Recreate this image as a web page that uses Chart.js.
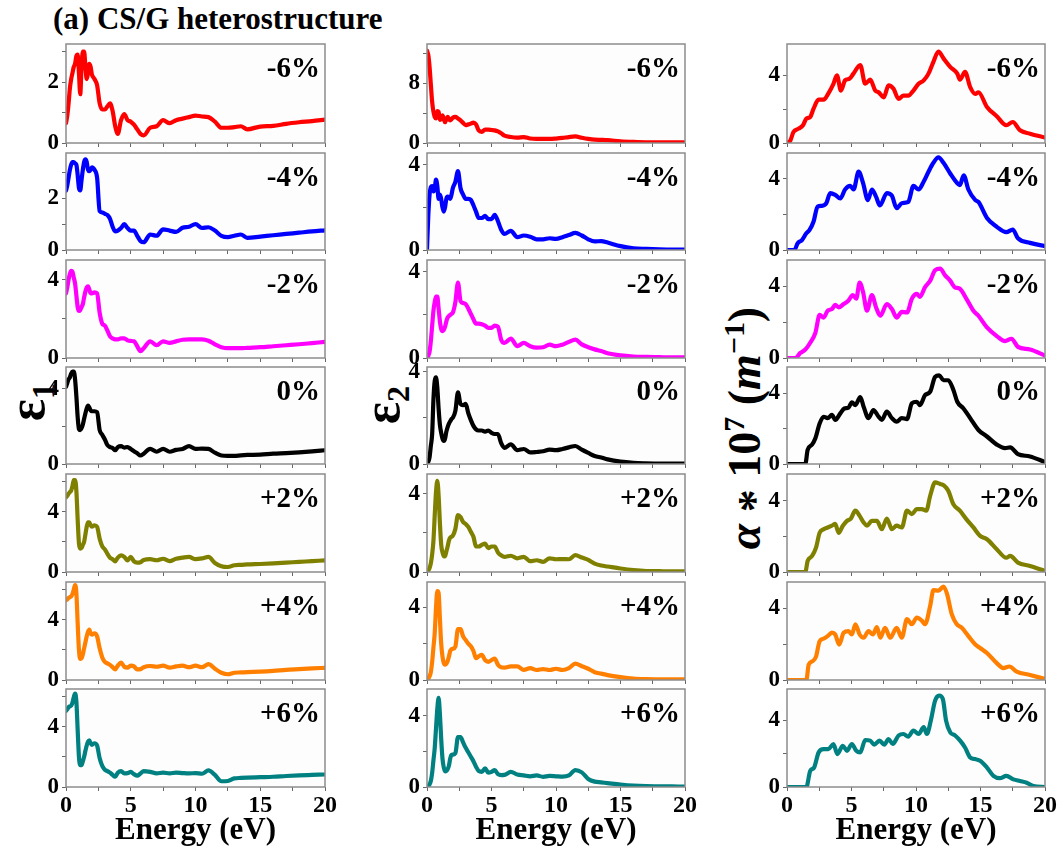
<!DOCTYPE html>
<html><head><meta charset="utf-8">
<script src="https://cdn.jsdelivr.net/npm/chart.js@4.4.0/dist/chart.umd.min.js"></script>
<style>
html,body{margin:0;padding:0;background:#fff;}
body{position:relative;width:1062px;height:854px;overflow:hidden;font-family:"Liberation Serif","Times New Roman",serif;}
canvas{position:absolute;}
.txt{position:absolute;font-weight:bold;white-space:nowrap;color:#000;}
.plab{font-size:29px;line-height:29px;transform:translateX(-100%);}
.elab{font-size:31px;line-height:31px;transform:translateX(-50%);}
.ylab{transform:translate(-50%,-50%) rotate(-90deg);line-height:1;}
</style></head><body>
<div class="txt" style="left:53px;top:3px;font-size:31px;line-height:31px;">(a) CS/G heterostructure</div>
<div class="txt ylab" style="left:27px;top:402px;font-size:52px;">ε<span style="font-size:0.62em;position:relative;top:0.3em;">1</span></div>
<div class="txt ylab" style="left:382px;top:405px;font-size:52px;">ε<span style="font-size:0.62em;position:relative;top:0.3em;">2</span></div>
<div class="txt ylab" style="left:745px;top:428px;font-size:46px;"><i>α</i> <span style="font-size:1em;position:relative;top:0.22em;">*</span> 10<span style="font-size:0.65em;position:relative;top:-0.55em;">7</span> (<i>m</i><span style="font-size:0.65em;position:relative;top:-0.55em;">−1</span>)</div>
<script>
// ---------------- DATA ----------------
const strainLabels = ['-6%','-4%','-2%','0%','+2%','+4%','+6%'];
const energyEps = [0,0.1,0.2,0.3,0.4,0.5,0.6,0.7,0.8,0.9,1.0,1.1,1.2,1.3,1.4,1.5,1.6,1.7,1.8,1.9,2.0,
  2.2,2.4,2.6,2.8,3.0,3.2,3.4,3.6,3.8,4.0,
  4.25,4.5,4.75,5.0,5.25,5.5,5.75,6.0,
  6.5,7.0,7.5,8.0,8.5,9.0,9.5,10.0,10.5,11.0,11.5,12.0,12.5,13.0,13.5,14.0,
  15,16,17,18,19,20];
const xTickValues = [0,2.5,5,7.5,10,12.5,15,17.5,20];
const xTickLabels = [0,5,10,15,20];

// epsilon_1 (real part)
const eps1M6 = [0.65,0.9,1.3,1.8,2.1,2.3,2.5,2.6,2.85,2.9,2.3,1.6,2.5,3.0,3.0,2.5,2.1,2.3,2.6,2.5,2.25, 2.1,1.9,1.3,1.1,1.1,1.2,1.3,1.05,0.55,0.3, 0.75,0.95,0.75,0.7,0.6,0.45,0.3,0.25, 0.5,0.55,0.75,0.65,0.75,0.8,0.85,0.9,0.87,0.85,0.7,0.5,0.5,0.52,0.55,0.45, 0.54,0.56,0.63,0.68,0.72,0.77];
const eps1M4 = [2.3,2.5,2.8,3.1,3.3,3.4,3.4,3.35,3.3,2.9,2.4,2.3,2.7,3.1,3.4,3.5,3.4,3.1,3.05,3.1,3.2, 3.1,2.8,1.5,1.45,1.4,1.35,1.2,0.9,0.72,0.75, 0.85,1.0,0.85,0.75,0.75,0.55,0.35,0.3, 0.6,0.55,0.8,0.75,0.7,0.86,0.9,1.0,0.85,0.88,0.75,0.55,0.5,0.55,0.6,0.47, 0.52,0.57,0.62,0.67,0.72,0.76];
const eps1M2 = [3.3,3.6,4.0,4.3,4.45,4.4,4.1,3.8,3.2,2.6,2.4,2.45,2.6,2.75,3.1,3.4,3.6,3.65,3.5,3.3,3.3, 3.35,3.3,2.3,1.75,1.65,1.4,1.1,1.0,0.95,0.95, 1.0,1.0,0.9,0.87,0.85,0.6,0.35,0.5, 0.85,0.65,0.85,0.77,0.85,0.93,0.95,0.95,0.95,0.88,0.7,0.55,0.5,0.5,0.5,0.52, 0.55,0.6,0.65,0.7,0.76,0.82];
const eps1Z0 = [4.1,4.3,4.5,4.6,4.8,4.9,4.9,4.5,3.6,2.5,1.85,1.8,1.9,2.1,2.4,2.7,2.95,3.1,3.0,2.85,2.8, 2.8,2.75,1.8,1.55,1.3,1.0,0.9,0.85,0.73,0.9, 0.95,0.87,0.9,0.8,0.68,0.57,0.45,0.55, 0.8,0.65,0.8,0.65,0.75,0.8,0.95,0.8,0.82,0.8,0.6,0.45,0.43,0.43,0.46,0.48, 0.5,0.55,0.58,0.62,0.67,0.73];
const eps1P2 = [4.95,5.05,5.2,5.3,5.4,5.7,6.1,6.1,5.4,3.5,1.9,1.55,1.6,1.8,2.0,2.5,3.0,3.3,3.3,3.1,3.0, 3.1,3.0,2.2,1.7,1.5,1.2,0.95,0.85,0.7,0.95, 1.1,1.0,0.77,1.0,0.7,0.62,0.65,0.8, 0.85,0.78,0.88,0.72,0.88,0.95,1.0,0.85,0.9,1.0,0.6,0.38,0.33,0.45,0.47,0.5, 0.53,0.57,0.62,0.67,0.72,0.77];
const eps1P4 = [5.3,5.35,5.45,5.5,5.55,5.7,6.0,6.3,5.8,3.8,2.0,1.4,1.45,1.7,2.1,2.5,2.9,3.2,3.35,3.1,3.0, 3.1,2.9,2.1,1.5,1.2,1.1,1.0,0.85,0.7,0.95, 1.15,0.88,0.82,0.95,0.9,0.7,0.72,0.85, 0.93,0.88,0.95,0.82,0.9,0.95,0.85,0.95,0.85,1.05,0.75,0.48,0.38,0.48,0.5,0.52, 0.55,0.6,0.67,0.72,0.77,0.81];
const eps1P6 = [5.05,5.15,5.3,5.35,5.4,5.6,5.95,6.2,5.7,3.8,2.0,1.45,1.45,1.7,2.0,2.4,2.75,3.0,3.1,2.9,2.8, 2.9,2.75,1.9,1.4,1.15,1.05,0.95,0.8,0.68,0.95, 1.05,0.9,0.92,1.0,0.85,0.75,0.9,1.05, 1.0,0.9,0.95,0.9,0.95,0.92,0.9,0.92,0.88,1.1,0.8,0.38,0.4,0.57,0.6,0.62, 0.65,0.68,0.73,0.77,0.8,0.83];

// epsilon_2 (imaginary part)
const eps2M6 = [12.4,11.8,10.2,7.8,5.5,4.2,3.5,3.3,4.3,4.2,3.1,3.3,3.7,3.2,2.8,3.2,3.5,3.2,3.05,3.2,3.4, 3.5,3.3,3.05,2.7,2.4,2.5,2.6,2.75,2.5,1.7, 1.5,1.8,1.8,1.75,1.7,1.55,1.3,1.0, 0.8,0.72,0.8,0.6,0.55,0.55,0.55,0.6,0.68,0.8,0.88,0.7,0.55,0.45,0.42,0.38, 0.22,0.14,0.1,0.1,0.1,0.1];
const eps2M4 = [0.05,1.6,2.6,2.95,3.0,2.75,2.9,3.3,3.0,2.4,2.6,2.4,2.0,1.8,2.0,2.4,2.5,2.45,2.4,2.6,2.9, 3.2,3.7,2.9,2.6,2.4,2.4,2.35,2.1,1.8,1.5, 1.5,1.6,1.45,1.45,1.65,1.35,0.95,0.75, 0.9,0.6,0.68,0.62,0.5,0.5,0.55,0.52,0.6,0.7,0.8,0.68,0.5,0.4,0.42,0.35, 0.18,0.08,0.05,0.03,0.02,0.02];
const eps2M2 = [0.02,0.1,0.3,0.8,1.5,2.2,2.6,2.85,2.85,2.3,1.7,1.35,1.25,1.3,1.45,1.7,1.88,1.95,2.0,2.05,2.1, 2.6,3.5,2.65,2.55,2.5,2.3,2.05,1.8,1.6,1.6, 1.57,1.5,1.4,1.4,1.5,1.45,0.85,0.7, 0.9,0.55,0.7,0.55,0.48,0.5,0.62,0.55,0.62,0.75,0.85,0.63,0.5,0.4,0.32,0.22, 0.12,0.07,0.05,0.04,0.03,0.03];
const eps2Z0 = [0.02,0.1,0.3,0.8,1.3,2.8,3.6,3.75,3.3,2.4,1.7,1.35,1.1,1.0,1.1,1.4,1.6,1.75,1.85,1.95,2.0, 2.3,3.1,2.6,2.55,2.6,2.2,1.9,1.65,1.5,1.45, 1.45,1.4,1.45,1.35,1.3,1.3,0.9,0.7, 0.85,0.6,0.65,0.5,0.52,0.55,0.62,0.6,0.65,0.72,0.78,0.62,0.48,0.35,0.28,0.2, 0.1,0.05,0.03,0.02,0.02,0.02];
const eps2P2 = [0.02,0.08,0.2,0.45,0.9,1.6,2.9,4.1,4.65,3.9,2.5,1.4,1.0,0.8,0.8,1.05,1.3,1.6,1.75,1.8,1.85, 2.2,2.9,2.8,2.55,2.45,2.3,2.05,1.8,1.3,1.3, 1.38,1.45,1.22,1.3,1.3,1.0,0.85,0.77, 0.83,0.7,0.77,0.55,0.6,0.52,0.7,0.65,0.66,0.65,0.86,0.74,0.62,0.43,0.33,0.28, 0.18,0.1,0.05,0.04,0.03,0.03];
const eps2P4 = [0.03,0.08,0.2,0.45,1.0,1.8,2.6,4.0,4.9,4.8,3.4,2.0,1.3,0.95,0.85,0.9,1.05,1.3,1.6,1.7,1.72, 1.85,2.8,2.8,2.4,2.2,2.0,1.86,1.6,1.2,1.3, 1.38,1.1,1.0,1.1,1.18,0.84,0.7,0.68, 0.75,0.75,0.56,0.65,0.55,0.6,0.55,0.62,0.55,0.65,0.9,0.76,0.62,0.43,0.35,0.27, 0.16,0.08,0.05,0.04,0.03,0.03];
const eps2P6 = [0.03,0.06,0.15,0.35,0.8,1.5,2.2,3.3,4.4,5.0,4.1,2.7,1.6,1.1,0.88,0.9,1.0,1.2,1.6,1.8,1.82, 1.9,2.8,2.8,2.5,2.2,1.95,1.7,1.45,1.14,0.9, 0.85,1.05,0.8,0.85,0.95,0.72,0.67,0.68, 0.85,0.7,0.65,0.6,0.65,0.57,0.62,0.6,0.58,0.65,0.95,0.82,0.45,0.3,0.26,0.22, 0.14,0.08,0.05,0.04,0.03,0.02];

// absorption alpha*1e7 (m^-1): [energy eV, value]
const alphaM6 = [[0,0],[0.26,0.15],[0.5,0.65],[0.9,0.85],[1.24,1.05],[1.5,1.44],[1.8,1.54],[2.06,2.03],[2.45,2.56],[2.84,2.56],[3.2,2.92],[3.6,3.5],[3.87,4.0],[4.18,3.1],[4.5,3.7],[4.85,3.8],[5.15,4.1],[5.68,4.6],[6.06,3.5],[6.45,3.74],[6.84,3.1],[7.1,3.0],[7.5,2.7],[7.87,3.4],[8.26,3.2],[8.65,2.6],[9.03,2.8],[9.4,2.8],[9.8,3.1],[10.2,3.5],[10.6,3.7],[10.97,4.1],[11.35,4.8],[11.74,5.4],[12.13,5.0],[12.65,4.5],[13.2,4.1],[13.4,3.74],[13.8,4.2],[14.2,3.3],[14.6,2.9],[14.84,3.0],[15.5,2.13],[16.26,1.58],[17.0,1.05],[17.5,1.24],[18.06,0.75],[18.84,0.55],[20,0.32]];
const alphaM4 = [[0,0],[0.57,0],[0.83,0.38],[1.16,0.56],[1.5,0.94],[1.75,1.13],[2.06,1.6],[2.37,2.44],[2.7,2.48],[3.05,2.63],[3.35,3.2],[3.74,3.1],[4.13,2.9],[4.5,3.4],[4.9,3.6],[5.16,3.4],[5.55,4.4],[5.9,3.75],[6.27,2.8],[6.58,3.4],[6.9,3.0],[7.2,2.5],[7.74,3.2],[8.13,3.05],[8.5,2.35],[8.9,2.63],[9.4,2.7],[9.8,3.6],[10.2,3.4],[10.6,3.85],[10.97,4.4],[11.35,4.9],[11.74,5.2],[12.13,4.9],[12.65,4.3],[13.2,3.75],[13.4,3.65],[13.7,4.2],[14.06,3.4],[14.6,2.8],[14.84,2.7],[15.5,1.8],[16.26,1.3],[17.0,1.0],[17.5,1.15],[17.9,0.66],[18.84,0.4],[20,0.22]];
const alphaM2 = [[0,0],[0.65,0],[1.03,0.28],[1.42,0.47],[1.8,0.85],[2.2,1.4],[2.53,2.4],[2.84,2.25],[3.15,2.63],[3.48,2.72],[3.74,2.95],[4.0,2.82],[4.39,3.0],[4.77,3.2],[5.1,3.5],[5.37,3.3],[5.63,4.2],[5.9,3.66],[6.2,2.63],[6.58,3.5],[6.9,2.82],[7.23,2.35],[7.74,3.0],[8.13,2.72],[8.5,2.25],[8.9,2.57],[9.3,2.53],[9.68,3.3],[10.06,3.57],[10.3,3.4],[10.7,3.94],[11.1,4.3],[11.48,4.88],[11.87,4.97],[12.26,4.6],[12.65,4.3],[13.0,3.94],[13.4,3.85],[13.9,3.3],[14.45,2.63],[14.84,2.35],[15.5,1.7],[16.26,1.22],[16.9,0.94],[17.4,1.07],[17.9,0.62],[18.84,0.47],[20,0.13]];
const alphaZ0 = [[0,0],[1.42,0],[1.6,0.8],[1.94,1.1],[2.2,1.46],[2.53,2.3],[2.84,2.68],[3.15,2.6],[3.48,2.78],[3.74,2.5],[4.13,2.87],[4.44,3.15],[4.77,3.2],[5.03,3.5],[5.3,3.34],[5.68,3.8],[5.94,3.25],[6.32,2.6],[6.7,3.06],[7.1,2.68],[7.35,2.5],[7.74,2.97],[8.13,2.6],[8.5,2.4],[8.9,2.6],[9.3,2.55],[9.68,3.44],[10.06,3.53],[10.3,3.34],[10.7,3.9],[11.1,4.1],[11.48,4.94],[11.8,5.03],[12.13,4.75],[12.5,4.75],[12.9,4.2],[13.2,3.53],[13.68,3.15],[14.2,2.6],[14.84,1.93],[15.5,1.56],[16.26,1.1],[16.9,0.9],[17.3,0.94],[17.9,0.56],[18.84,0.43],[20,0.11]];
const alphaP2 = [[0,0],[1.42,0],[1.6,0.62],[1.94,0.9],[2.25,1.37],[2.53,2.2],[2.84,2.4],[3.15,2.5],[3.48,2.6],[3.74,2.7],[4.0,2.2],[4.33,2.6],[4.65,2.87],[4.95,3.0],[5.3,3.44],[5.63,3.15],[5.94,2.78],[6.2,2.6],[6.58,2.87],[6.97,2.87],[7.35,2.4],[7.74,3.0],[8.13,2.4],[8.5,2.6],[8.9,2.5],[9.3,3.44],[9.68,3.25],[10.06,3.53],[10.45,3.53],[10.8,3.44],[11.1,4.28],[11.48,5.03],[11.87,4.94],[12.18,4.85],[12.5,4.56],[12.9,3.8],[13.4,3.44],[13.9,2.97],[14.45,2.5],[14.97,2.03],[15.5,1.84],[16.26,1.28],[17.0,0.8],[17.3,0.9],[17.9,0.53],[18.84,0.34],[20,0.06]];
const alphaP4 = [[0,0],[1.5,0],[1.68,0.85],[1.94,1.03],[2.25,1.3],[2.53,2.16],[2.84,2.3],[3.15,2.44],[3.48,2.63],[3.74,2.53],[4.05,1.97],[4.39,2.63],[4.77,2.72],[5.03,2.53],[5.3,3.1],[5.63,2.53],[5.94,2.35],[6.32,2.72],[6.66,2.53],[6.97,2.94],[7.23,2.35],[7.6,2.9],[8.0,2.35],[8.5,2.9],[8.9,2.35],[9.3,3.38],[9.68,3.1],[10.06,3.47],[10.45,3.3],[10.7,3.1],[11.1,4.13],[11.35,5.0],[11.74,4.97],[12.13,5.2],[12.4,4.8],[12.77,3.66],[13.16,3.1],[13.55,2.9],[14.06,2.44],[14.6,1.97],[14.97,1.78],[15.5,1.5],[16.26,0.94],[16.77,0.66],[17.24,0.75],[17.8,0.47],[18.84,0.28],[20,0.06]];
const alphaP6 = [[0,0],[1.5,0],[1.8,0.97],[2.1,1.17],[2.45,2.08],[2.84,2.28],[3.2,2.28],[3.6,2.59],[3.9,1.98],[4.33,2.48],[4.65,2.18],[5.03,2.59],[5.37,2.18],[5.68,2.08],[6.06,2.83],[6.45,2.79],[6.76,2.55],[7.17,2.79],[7.54,2.55],[7.87,2.89],[8.2,2.59],[8.65,3.1],[9.03,3.19],[9.4,3.03],[9.8,3.4],[10.2,3.19],[10.6,3.6],[10.84,3.19],[11.15,4.0],[11.48,5.2],[11.8,5.5],[12.08,5.3],[12.33,4.0],[12.65,3.3],[13.03,3.1],[13.42,2.79],[13.8,2.38],[14.2,1.78],[14.58,1.68],[14.97,1.58],[15.5,1.17],[16.0,0.67],[16.5,0.53],[17.0,0.67],[17.55,0.46],[18.06,0.36],[18.58,0.26],[19.1,0.06],[20,0]];

// axis ranges and tick values per panel
const eps1YMax = [3.25,3.75,5.0,5.15,6.5,6.5,6.5];
const eps2YMax = [13.3,4.55,4.55,4.2,5.0,5.4,5.5];
const alphaYMax = [5.85,5.45,5.45,5.5,5.5,5.45,5.9];
const eps1YMajor = [[0,2],[0,2],[0,4],[0,4],[0,4],[0,4],[0,4]];
const eps1YMinor = [[1,3],[1,3],[2],[2],[2,6],[2,6],[2,6]];
const eps2YMajor = [[0,8],[0,4],[0,4],[0,4],[0,4],[0,4],[0,4]];
const eps2YMinor = [[4,12],[2],[2],[2],[2],[2],[2]];
const alphaYMajor = [[0,4],[0,4],[0,4],[0,4],[0,4],[0,4],[0,4]];
const alphaYMinor = [[2],[2],[2],[2],[2],[2],[2]];

const colors = ['#ff0000','#0000ff','#ff00ff','#000000','#808000','#ff8000','#008080'];

// ---------------- LAYOUT ----------------
const colLeft = [66,427,787], colRight = [325,685,1045];
const rowTop = [44,153,260,367,474,582,689], rowBottom = [143,250,358,464,572,680,787];
const FONT = 'Liberation Serif';

const framePlugin = {
  id:'frame',
  beforeDatasetsDraw(c){const a=c.chartArea,x=c.ctx;x.save();x.fillStyle='#fdfdfd';x.fillRect(a.left,a.top,a.right-a.left,a.bottom-a.top);x.restore();},
  afterDatasetsDraw(c){const a=c.chartArea,x=c.ctx;x.save();x.strokeStyle='#8c8c8c';x.lineWidth=1.5;x.strokeRect(a.left,a.top,a.right-a.left,a.bottom-a.top);x.restore();}
};

function makePanel(col,row,points,yMax,majors,minors){
  const L=colLeft[col],R=colRight[col],T=rowTop[row],B=rowBottom[row];
  const AXW=60,RP=18,TP=18,XH=(row===6)?44:18;
  const w=AXW+(R-L)+RP,h=TP+(B-T)+XH;
  const cv=document.createElement('canvas');
  cv.width=w;cv.height=h;
  cv.style.left=(L-AXW)+'px';cv.style.top=(T-TP)+'px';cv.style.width=w+'px';cv.style.height=h+'px';
  document.body.appendChild(cv);
  const yVals=[...majors,...minors].sort((a,b)=>a-b);
  const bottom=(row===6);
  new Chart(cv,{
    type:'line',
    data:{datasets:[{data:points,borderColor:colors[row],borderWidth:4.2,pointRadius:0,fill:false,cubicInterpolationMode:'monotone',borderJoinStyle:'round',borderCapStyle:'round'}]},
    options:{
      responsive:false,animation:false,devicePixelRatio:1,
      layout:{padding:{top:TP,right:RP,left:0,bottom:0}},
      plugins:{legend:{display:false},tooltip:{enabled:false},title:{display:false}},
      scales:{
        x:{type:'linear',min:0,max:20,
          afterBuildTicks:s=>{s.ticks=xTickValues.map(v=>({value:v}));},
          afterFit:s=>{s.height=XH;},
          ticks:{display:bottom,autoSkip:false,maxRotation:0,padding:0,color:'#000',
            font:{family:FONT,size:24,weight:'bold'},
            callback:v=>xTickLabels.includes(v)?String(v):''},
          grid:{drawOnChartArea:false,drawTicks:true,tickLength:4,color:'#666',lineWidth:1},
          border:{display:false}},
        y:{type:'linear',min:0,max:yMax,
          afterBuildTicks:s=>{s.ticks=yVals.map(v=>({value:v}));},
          afterFit:s=>{s.width=AXW;},
          ticks:{autoSkip:false,padding:3,color:'#000',
            font:{family:FONT,size:23,weight:'bold'},
            callback:v=>majors.includes(v)?String(v):''},
          grid:{drawOnChartArea:false,drawTicks:true,tickLength:4,color:'#666',lineWidth:1},
          border:{display:false}}
      }
    },
    plugins:[framePlugin]
  });
  const lab=document.createElement('div');
  lab.className='txt plab';
  lab.textContent=strainLabels[row];
  lab.style.left=(R-5)+'px';
  lab.style.top=(T+9)+'px';
  document.body.appendChild(lab);
}

const eps1All=[eps1M6,eps1M4,eps1M2,eps1Z0,eps1P2,eps1P4,eps1P6];
const eps2All=[eps2M6,eps2M4,eps2M2,eps2Z0,eps2P2,eps2P4,eps2P6];
const alphaAll=[alphaM6,alphaM4,alphaM2,alphaZ0,alphaP2,alphaP4,alphaP6];
const toPts=vals=>energyEps.map((e,i)=>({x:e,y:vals[i]}));

for(let r=0;r<7;r++){
  makePanel(0,r,toPts(eps1All[r]),eps1YMax[r],eps1YMajor[r],eps1YMinor[r]);
  makePanel(1,r,toPts(eps2All[r]),eps2YMax[r],eps2YMajor[r],eps2YMinor[r]);
  makePanel(2,r,alphaAll[r].map(p=>({x:p[0],y:p[1]})),alphaYMax[r],alphaYMajor[r],alphaYMinor[r]);
}
for(let c=0;c<3;c++){
  const d=document.createElement('div');
  d.className='txt elab';
  d.textContent='Energy (eV)';
  d.style.left=((colLeft[c]+colRight[c])/2)+'px';
  d.style.top='813px';
  document.body.appendChild(d);
}
</script>
</body></html>
